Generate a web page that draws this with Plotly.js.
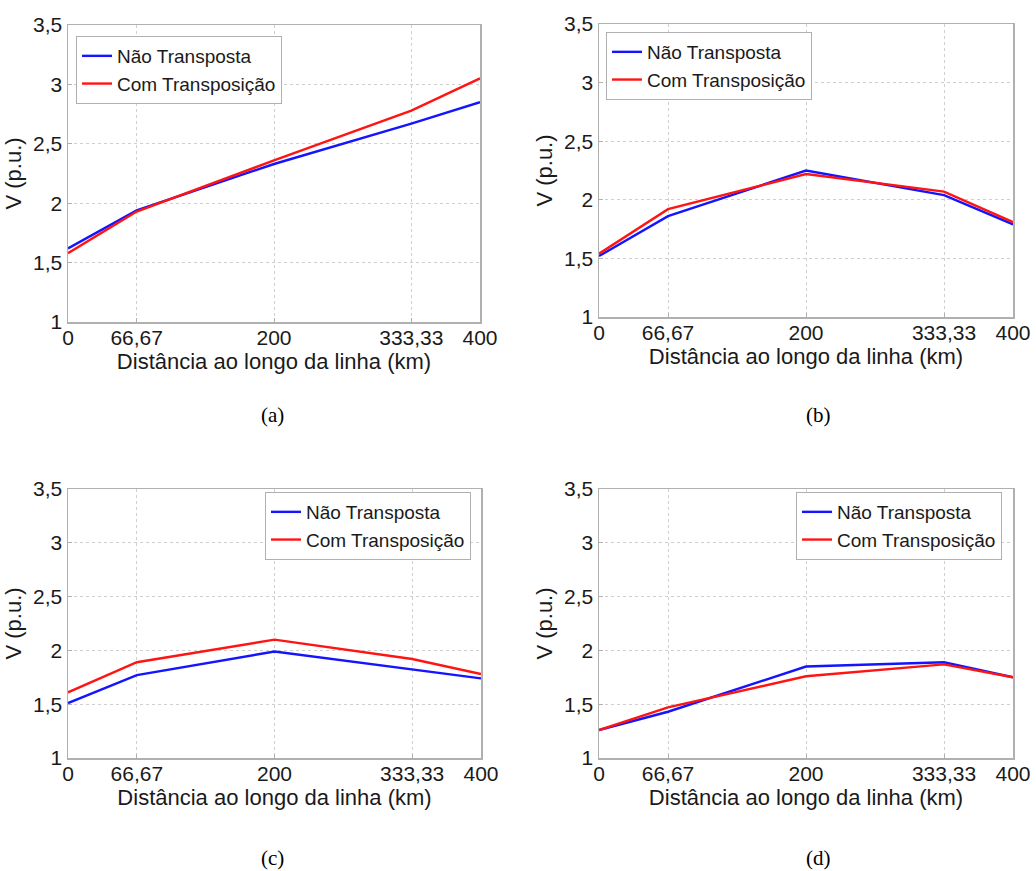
<!DOCTYPE html>
<html>
<head>
<meta charset="utf-8">
<script src="https://cdn.plot.ly/plotly-3.0.1.min.js"></script>
<style>html,body{margin:0;padding:0;background:#fff;}#chart{width:1036px;height:871px;}</style>
</head>
<body>
<div id="chart"></div>
<script>
// ---- Data ----
const distancia = [0, 66.67, 200, 333.33, 400];
const distanciaLabels = ['0', '66,67', '200', '333,33', '400'];
const vTicks = [1, 1.5, 2, 2.5, 3, 3.5];
const vLabels = ['1', '1,5', '2', '2,5', '3', '3,5'];
const seriesNames = ['Não Transposta', 'Com Transposição'];
const panelCaptions = ['(a)', '(b)', '(c)', '(d)'];

const naoTranspostaA = [1.62, 1.94, 2.33, 2.67, 2.85];
const comTransposicaoA = [1.58, 1.93, 2.36, 2.78, 3.05];
const naoTranspostaB = [1.52, 1.86, 2.25, 2.04, 1.79];
const comTransposicaoB = [1.54, 1.92, 2.22, 2.07, 1.81];
const naoTranspostaC = [1.51, 1.77, 1.99, 1.82, 1.74];
const comTransposicaoC = [1.61, 1.89, 2.10, 1.92, 1.78];
const naoTranspostaD = [1.26, 1.43, 1.85, 1.89, 1.75];
const comTransposicaoD = [1.26, 1.47, 1.76, 1.87, 1.75];

const panels = [
  {blue: naoTranspostaA, red: comTransposicaoA},
  {blue: naoTranspostaB, red: comTransposicaoB},
  {blue: naoTranspostaC, red: comTransposicaoC},
  {blue: naoTranspostaD, red: comTransposicaoD}
];

// ---- Layout geometry (pixels) ----
const W = 1036, H = 871;
const boxes = [
  {x0: 68, x1: 480, y0: 25, y1: 322, lx: 76, ly: 36},
  {x0: 599, x1: 1013, y0: 24, y1: 317, lx: 606, ly: 32},
  {x0: 68, x1: 481, y0: 489, y1: 758, lx: 265, ly: 492},
  {x0: 599, x1: 1013, y0: 489, y1: 758, lx: 796, ly: 492}
];
const captionPos = [
  {x: 272, y: 415}, {x: 818, y: 415}, {x: 272, y: 858}, {x: 818, y: 858}
];

const tickFont = {family: 'Liberation Sans, Arial, sans-serif', size: 21, color: '#1a1a1a'};
const titleFont = {family: 'Liberation Sans, Arial, sans-serif', size: 22, color: '#1a1a1a'};

const traces = [];
const layout = {
  width: W, height: H,
  margin: {l: 0, r: 0, t: 0, b: 0},
  paper_bgcolor: '#fff', plot_bgcolor: '#fff',
  showlegend: true,
  annotations: []
};

panels.forEach((p, i) => {
  const n = i + 1;
  const xa = n === 1 ? 'x' : 'x' + n;
  const ya = n === 1 ? 'y' : 'y' + n;
  const lg = n === 1 ? 'legend' : 'legend' + n;
  traces.push({
    x: distancia, y: p.blue, type: 'scatter', mode: 'lines',
    name: seriesNames[0], xaxis: xa, yaxis: ya, legend: lg,
    line: {color: 'rgb(20,20,255)', width: 2.4}
  });
  traces.push({
    x: distancia, y: p.red, type: 'scatter', mode: 'lines',
    name: seriesNames[1], xaxis: xa, yaxis: ya, legend: lg,
    line: {color: 'rgb(255,20,20)', width: 2.4}
  });
  const b = boxes[i];
  const xk = n === 1 ? 'xaxis' : 'xaxis' + n;
  const yk = n === 1 ? 'yaxis' : 'yaxis' + n;
  layout[xk] = {
    domain: [b.x0 / W, b.x1 / W], anchor: ya,
    range: [0, 400], tickmode: 'array', tickvals: distancia, ticktext: distanciaLabels,
    showgrid: true, gridcolor: '#cfcfcf', griddash: 'dot', gridwidth: 1,
    showline: true, linecolor: '#b0b0b0', linewidth: 1.5, mirror: true,
    ticks: 'inside', ticklen: 4, tickcolor: '#b0b0b0',
    ticklabelstandoff: -4,
    zeroline: false, tickfont: tickFont, automargin: false,
    title: {text: 'Distância ao longo da linha (km)', font: titleFont, standoff: 0}
  };
  layout[yk] = {
    domain: [1 - b.y1 / H, 1 - b.y0 / H], anchor: xa,
    range: [1, 3.5], tickmode: 'array', tickvals: vTicks, ticktext: vLabels,
    showgrid: true, gridcolor: '#cfcfcf', griddash: 'dot', gridwidth: 1,
    showline: true, linecolor: '#b0b0b0', linewidth: 1.5, mirror: true,
    ticks: 'inside', ticklen: 4, tickcolor: '#b0b0b0',
    zeroline: false, tickfont: tickFont, automargin: false,
    title: {text: 'V (p.u.)', font: titleFont, standoff: 5}
  };
  layout[lg] = {
    x: b.lx / W, y: 1 - b.ly / H, xanchor: 'left', yanchor: 'top',
    xref: 'paper', yref: 'paper',
    bgcolor: '#fff', bordercolor: '#b0b0b0', borderwidth: 1,
    font: {family: 'Liberation Sans, Arial, sans-serif', size: 19, color: '#1a1a1a'},
    tracegroupgap: 0, itemwidth: 30
  };
  layout.annotations.push({
    text: panelCaptions[i], xref: 'paper', yref: 'paper',
    x: captionPos[i].x / W, y: 1 - captionPos[i].y / H,
    xanchor: 'center', yanchor: 'middle', showarrow: false,
    font: {family: 'Liberation Serif, Times New Roman, serif', size: 21, color: '#000'}
  });
});

Plotly.newPlot('chart', traces, layout, {displayModeBar: false, staticPlot: true});
</script>
</body>
</html>
